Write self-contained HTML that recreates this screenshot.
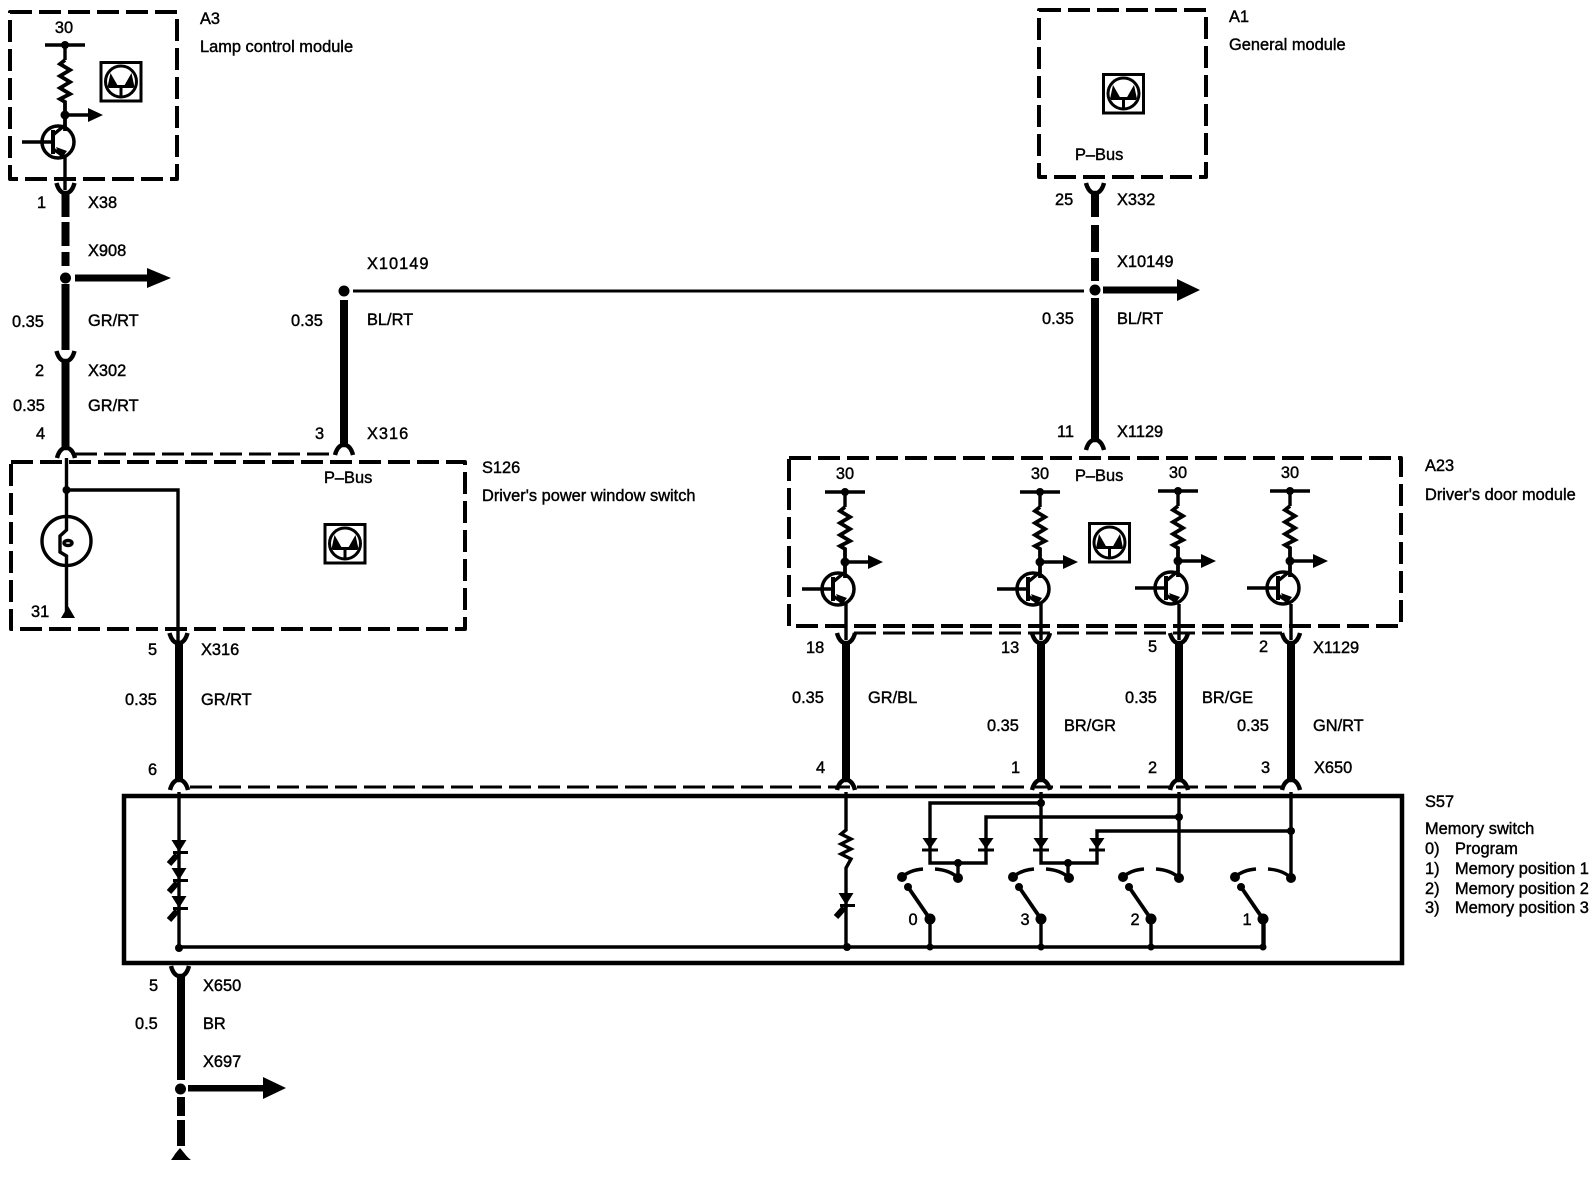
<!DOCTYPE html>
<html><head><meta charset="utf-8"><style>
html,body{margin:0;padding:0;background:#fff}
svg{display:block}
text{font-family:"Liberation Sans",sans-serif;font-size:16.4px;fill:#000;stroke:#000;stroke-width:.42}
.m{text-anchor:middle}
.w{letter-spacing:1px}
</style></head><body>
<svg width="1596" height="1184" viewBox="0 0 1596 1184" xmlns="http://www.w3.org/2000/svg">
<defs>
<g id="tr" fill="none" stroke="#000" stroke-width="3.4">
 <path d="M-20 0H20"/><path d="M0 0V15"/>
 <path d="M0 15L-5 19L5 25L-5 31L5 37L-5 43L5 49L-5 54L0 57V86" stroke-width="3.8"/>
 <circle cx="0" cy="0" r="4" fill="#000" stroke="none"/>
 <circle cx="0" cy="70" r="4.5" fill="#000" stroke="none"/>
 <path d="M0 70H23" />
 <path d="M23 63L38 70L23 77Z" fill="#000" stroke="none"/>
 <circle cx="-7" cy="97" r="16" stroke-width="3.5"/>
 <path d="M-43 97H-12"/><path d="M-12 85V109" stroke-width="4"/>
 <path d="M-12 90L0 80M-12 104L0 112"/>
 <path d="M-9 102L2 106L-4 114Z" fill="#000" stroke="none"/>
</g>
<g id="icon" fill="none" stroke="#000" stroke-width="3">
 <rect x="1.5" y="1.5" width="40" height="38.5"/>
 <circle cx="21.5" cy="20.5" r="15.5" stroke-width="3"/>
 <path d="M21.5 26V36M9 25.500H34"/>
 <path d="M8 26L11 12L19 26ZM35 26L32 12L24 26Z" fill="#000" stroke="none"/>
</g>
<path id="cd" d="M-9 0Q-7 8 -2 10H2Q7 8 9 0" fill="none" stroke="#000" stroke-width="4.4"/>
<path id="cu" d="M-9 0Q-7 -8 -2 -10H2Q7 -8 9 0" fill="none" stroke="#000" stroke-width="4.4"/>
<g id="led">
 <path d="M-7.5 0H7.5L0 12Z"/>
 <path d="M-6 12.5H9M1 13L-8 22" stroke="#000" stroke-width="3" fill="none"/>
 <path d="M-2 15L-10 24" stroke="#000" stroke-width="6" fill="none"/>
</g>
<g id="dio">
 <path d="M-7.5 0H7.5L0 11Z"/>
 <path d="M-8 12H8" stroke="#000" stroke-width="3" fill="none"/>
</g>
<g id="sw" fill="none" stroke="#000" stroke-width="3.4">
 <path d="M0 0Q8 -7 21 -8M33 -8Q48 -7 56 1"/>
 <circle cx="0" cy="0" r="5" fill="#000" stroke="none"/>
 <circle cx="56" cy="1" r="5" fill="#000" stroke="none"/>
 <circle cx="6" cy="10" r="4" fill="#000" stroke="none"/>
 <path d="M6 10L28 42" stroke-width="3.8"/>
 <circle cx="28" cy="42" r="5.500" fill="#000" stroke="none"/>
 <path d="M28 42V70"/>
 <circle cx="28" cy="70" r="3.5" fill="#000" stroke="none"/>
</g>
</defs>

<!-- dashed module boxes -->
<g fill="none" stroke="#000" stroke-width="4" stroke-dasharray="22 7" stroke-linejoin="round">
 <rect x="10" y="12" width="167" height="167"/>
 <rect x="1039" y="10" width="167" height="167"/>
 <rect x="11" y="462" width="454" height="167"/>
 <rect x="789" y="458" width="612" height="168"/>
</g>
<g fill="none" stroke="#000" stroke-width="3" stroke-dasharray="22 7">
 <path d="M75 454H335"/>
 <path d="M854 633H1282"/>
 <path d="M190 787H1282"/>
</g>
<rect x="124" y="796" width="1278" height="167" fill="none" stroke="#000" stroke-width="4.5"/>

<!-- heavy wires -->
<g fill="none" stroke="#000" stroke-width="8">
 <path d="M65.5 191V217M65.5 222V246M65.5 252V266M65.5 284V350M65.5 360V448"/>
 <path d="M344 300V445"/>
 <path d="M1095 191V217M1095 225V252M1095 258V281M1095 298V441"/>
 <path d="M179 641V781"/>
 <path d="M846 641V781M1041 641V781M1179 641V781M1291 641V781"/>
 <path d="M181 975V1080M181 1097V1116M181 1120V1146"/>
</g>
<g>
 <use href="#cd" x="65.5" y="183"/><use href="#cd" x="65.5" y="351"/>
 <use href="#cu" x="66" y="458"/><use href="#cu" x="344" y="455"/>
 <use href="#cd" x="1095" y="183"/><use href="#cu" x="1095" y="450"/>
 <use href="#cd" x="178.500" y="633"/><use href="#cu" x="179" y="790"/>
 <use href="#cd" x="846" y="633"/><use href="#cd" x="1041" y="633"/><use href="#cd" x="1179" y="633"/><use href="#cd" x="1291" y="633"/>
 <use href="#cu" x="846" y="790"/><use href="#cu" x="1041" y="790"/><use href="#cu" x="1179" y="790"/><use href="#cu" x="1291" y="790"/>
 <use href="#cd" x="180" y="966"/>
</g>

<!-- splices and arrows -->
<circle cx="65.5" cy="278" r="5.5"/>
<path d="M75 274.500H147V268L171 278L147 288V281.500H75Z"/>
<circle cx="344" cy="291" r="5.5"/>
<path d="M353 291H1084" stroke="#000" stroke-width="3" fill="none"/>
<circle cx="1095" cy="290" r="5.500"/>
<path d="M1103 286.500H1177V279L1200 290L1177 301V293.500H1103Z"/>
<circle cx="180.500" cy="1089" r="5.500"/>
<path d="M188 1085H263V1077L286 1088L263 1099V1091.500H188Z"/>
<path d="M171 1160Q174 1156 175 1154L180 1148L185 1154Q187 1157 191 1160Z"/>

<!-- transistors -->
<use href="#tr" x="65" y="45"/>
<use href="#tr" x="845" y="492"/>
<use href="#tr" x="1040" y="492"/>
<use href="#tr" x="1178" y="491"/>
<use href="#tr" x="1290" y="491"/>
<g fill="none" stroke="#000" stroke-width="3.4">
 <path d="M65 155V190"/>
 <path d="M846 604V640M1041 604V640M1179 604V640M1291 604V640"/>
</g>

<!-- icons -->
<use href="#icon" x="99.500" y="61"/>
<use href="#icon" x="323.500" y="523"/>
<use href="#icon" x="1102" y="73"/>
<use href="#icon" x="1088" y="522"/>

<!-- S126 internals -->
<g fill="none" stroke="#000" stroke-width="3.4">
 <path d="M66.500 458V530L60 536V552L66.500 556V612"/>
 <path d="M66.500 490H178V642" />
 <circle cx="66.500" cy="541" r="24.500"/>
 <ellipse cx="68" cy="543" rx="4" ry="2.500"/>
</g>
<circle cx="66.500" cy="490" r="4"/>
<path d="M61 618L68 606L75 618Z"/>

<!-- S57 internals -->
<g fill="none" stroke="#000" stroke-width="3.4">
 <path d="M179 792V947H1264V919"/>
 <path d="M846 792V830L841 834L851 839L841 844L851 849L841 854L851 859L846 868V947"/>
 <path d="M1041 792V863H1097V831H1291M1291 792V877"/>
 <path d="M1041 803H930V863H986V817H1179M1179 792V877"/>
 <path d="M958 863V878M1068 863V878"/>
</g>
<use href="#led" x="179" y="840"/><use href="#led" x="179" y="868"/><use href="#led" x="179" y="896"/>
<use href="#led" x="846" y="893"/>
<use href="#dio" x="930" y="838"/><use href="#dio" x="986" y="838"/><use href="#dio" x="1041" y="838"/><use href="#dio" x="1097" y="838"/>
<use href="#sw" x="902" y="877"/><use href="#sw" x="1013" y="877"/><use href="#sw" x="1123" y="877"/><use href="#sw" x="1235" y="877"/>
<g>
 <circle cx="179" cy="948" r="4"/><circle cx="847" cy="947" r="4"/>
 <circle cx="1041" cy="803" r="4"/><circle cx="1179" cy="817" r="4"/><circle cx="1291" cy="831" r="4"/>
 <circle cx="958" cy="863" r="4"/><circle cx="1068" cy="863" r="4"/>
</g>

<!-- text -->
<text x="64" y="33" class="m">30</text>
<text x="200" y="24">A3</text><text x="200" y="52">Lamp control module</text>
<text x="37" y="208">1</text><text x="88" y="208">X38</text>
<text x="88" y="256">X908</text>
<text x="12" y="327">0.35</text><text x="88" y="326">GR/RT</text>
<text x="35" y="376">2</text><text x="88" y="376">X302</text>
<text x="13" y="411">0.35</text><text x="88" y="411">GR/RT</text>
<text x="36" y="439">4</text>
<text x="367" y="269" class="w">X10149</text>
<text x="291" y="326">0.35</text><text x="367" y="325">BL/RT</text>
<text x="315" y="439">3</text><text x="367" y="439" class="w">X316</text>
<text x="324" y="483">P–Bus</text>
<text x="31" y="617">31</text>
<text x="482" y="473">S126</text><text x="482" y="501">Driver's power window switch</text>
<text x="148" y="655">5</text><text x="201" y="655">X316</text>
<text x="125" y="705">0.35</text><text x="201" y="705">GR/RT</text>
<text x="148" y="775">6</text>
<text x="1229" y="22">A1</text><text x="1229" y="50">General module</text>
<text x="1075" y="160">P–Bus</text>
<text x="1055" y="205">25</text><text x="1117" y="205">X332</text>
<text x="1117" y="267">X10149</text>
<text x="1042" y="324">0.35</text><text x="1117" y="324">BL/RT</text>
<text x="1057" y="437">11</text><text x="1117" y="437">X1129</text>
<text x="1075" y="481">P–Bus</text>
<text x="845" y="479" class="m">30</text><text x="1040" y="479" class="m">30</text><text x="1178" y="478" class="m">30</text><text x="1290" y="478" class="m">30</text>
<text x="1425" y="471">A23</text><text x="1425" y="500">Driver's door module</text>
<text x="806" y="653">18</text><text x="1001" y="653">13</text><text x="1148" y="652">5</text><text x="1259" y="652">2</text><text x="1313" y="653">X1129</text>
<text x="792" y="703">0.35</text><text x="868" y="703">GR/BL</text>
<text x="987" y="731">0.35</text><text x="1064" y="731">BR/GR</text>
<text x="1125" y="703">0.35</text><text x="1202" y="703">BR/GE</text>
<text x="1237" y="731">0.35</text><text x="1313" y="731">GN/RT</text>
<text x="816" y="773">4</text><text x="1011" y="773">1</text><text x="1148" y="773">2</text><text x="1261" y="773">3</text><text x="1314" y="773">X650</text>
<text x="1425" y="807">S57</text><text x="1425" y="834">Memory switch</text>
<text x="1425" y="854">0)</text><text x="1455" y="854">Program</text>
<text x="1425" y="874">1)</text><text x="1455" y="874">Memory position 1</text>
<text x="1425" y="894">2)</text><text x="1455" y="894">Memory position 2</text>
<text x="1425" y="913">3)</text><text x="1455" y="913">Memory position 3</text>
<text x="913" y="925" class="m">0</text><text x="1025" y="925" class="m">3</text><text x="1135" y="925" class="m">2</text><text x="1247" y="925" class="m">1</text>
<text x="149" y="991">5</text><text x="203" y="991">X650</text>
<text x="135" y="1029">0.5</text><text x="203" y="1029">BR</text>
<text x="203" y="1067">X697</text>
</svg>
</body></html>
